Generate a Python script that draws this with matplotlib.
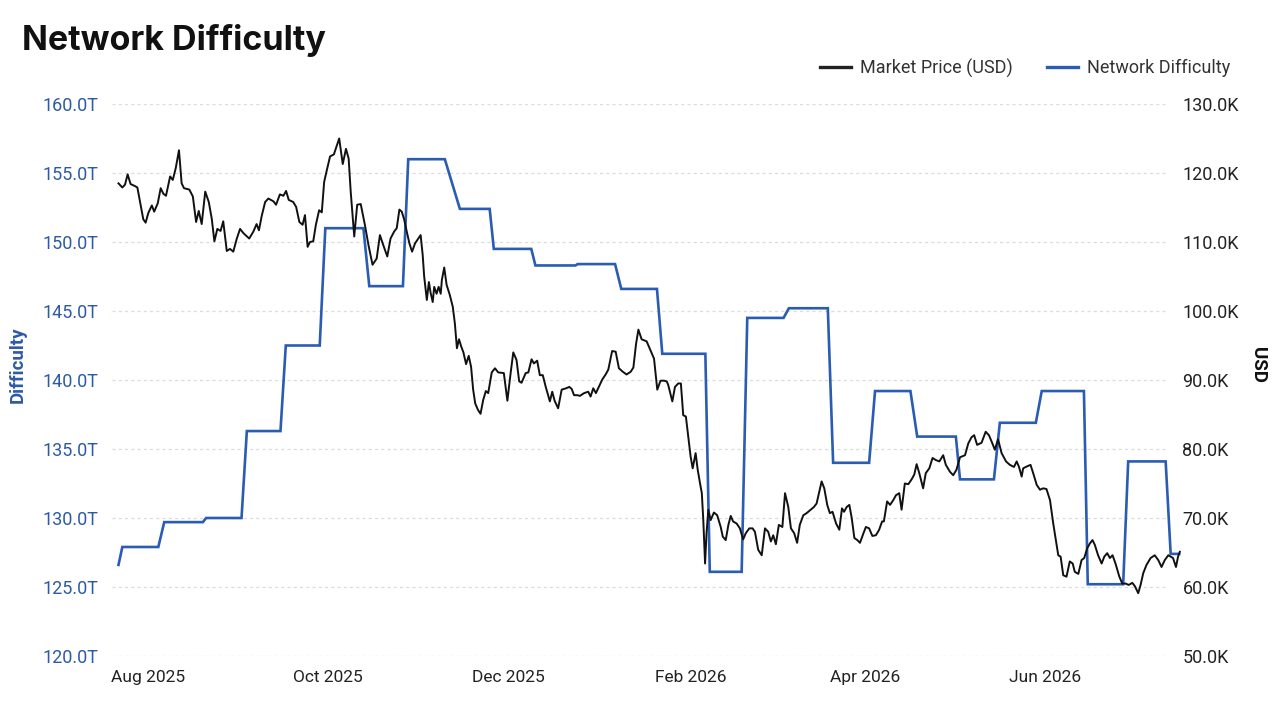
import pandas as pd
import matplotlib
matplotlib.use('Agg')
import matplotlib.pyplot as plt
from matplotlib.lines import Line2D

plt.rcParams['font.family'] = ['Roboto', 'DejaVu Sans']

# Datos (días desde 2025-07-22)
start = pd.Timestamp('2025-07-22')

# Precio de mercado (miles de USD)
price_day = [
    0.0, 1.3, 2.2, 3.1, 4.1, 5.6, 6.4, 7.3, 8.4, 9.2,
    10.1, 11.3, 12.1, 13.3, 14.3, 15.2, 16.1, 17.5, 18.4, 19.4,
    20.5, 21.4, 22.2, 24.0, 25.2, 26.3, 27.2, 28.2, 29.4, 30.6,
    31.6, 32.5, 33.5, 34.6, 35.5, 36.7, 37.8, 38.9, 40.1, 41.2,
    42.3, 44.3, 45.7, 46.8, 47.6, 48.5, 49.7, 50.8, 52.5, 53.4,
    54.7, 55.9, 56.8, 57.7, 59.2, 60.2, 61.3, 62.4, 63.2, 64.1,
    64.9, 66.0, 66.9, 68.0, 68.9, 69.7, 70.6, 71.7, 73.0, 74.8,
    76.0, 77.1, 78.0, 78.7, 79.9, 80.9, 82.1, 83.5, 84.7, 86.1, 87.5,
    88.6, 89.7, 91.1, 92.2, 93.4, 94.3, 95.2, 96.0, 96.8, 97.7,
    98.6, 99.5, 100.5, 101.6, 102.4, 103.1, 103.6, 104.5, 105.2, 105.8,
    106.5, 107.0, 107.8, 108.5, 109.2, 109.6, 110.4, 111.2, 112.3, 113.3,
    114.0, 114.7, 115.4, 116.2, 116.9, 117.8, 118.7, 119.5, 120.2, 120.9,
    121.8, 122.7, 123.6, 124.5, 125.3, 126.5, 127.6, 128.7, 130.6, 131.8,
    132.9, 133.8, 134.9, 135.8, 136.6, 138.0, 138.9, 140.0, 140.8, 141.9,
    142.8, 143.8, 144.8, 146.2, 147.0, 147.8, 149.0, 150.2, 151.7, 152.8,
    153.6, 154.4, 155.5, 156.4, 157.8, 159.2, 160.0, 160.9, 161.8, 162.8,
    164.0, 165.1, 166.0, 167.3, 168.5, 169.6, 170.9, 172.2, 173.6, 174.5,
    175.4, 176.2, 177.3, 179.0, 180.4, 181.5, 182.6, 183.7, 184.9, 185.8,
    186.3, 187.7, 188.6, 189.7, 190.6, 191.4, 192.3, 193.1, 193.9, 194.6,
    195.6, 196.3, 197.1, 197.7, 198.2, 198.8, 199.3, 199.9, 200.7, 201.8,
    202.9, 204.1, 204.8, 205.8, 206.7, 207.5, 208.3, 209.5, 210.6, 211.7,
    212.6, 213.8, 214.9, 215.7, 216.8, 218.0, 219.1, 220.2, 221.1, 221.9,
    222.8, 223.8, 225.0, 225.9, 227.0, 227.9, 229.0, 230.0, 230.9, 232.1,
    233.2, 234.6, 235.7, 236.6, 237.5, 238.3, 239.2, 240.2, 241.1, 242.0,
    243.2, 244.3, 245.2, 245.9, 246.8, 247.7, 248.5, 249.4, 250.4, 251.3,
    252.4, 253.3, 254.4, 255.5, 256.7, 257.8, 258.8, 259.4, 260.5, 261.5,
    262.6, 263.5, 264.6, 265.4, 266.5, 267.7, 268.8, 269.7, 270.5, 271.4,
    272.7, 273.6, 274.8, 275.9, 277.0, 278.2, 279.5, 280.4, 281.8, 282.9,
    284.0, 285.2, 286.9, 288.0, 289.1, 290.0, 291.0, 292.5, 293.9, 295.0,
    295.9, 297.0, 298.1, 299.3, 300.8, 302.1, 303.5, 304.4, 305.2, 306.1,
    306.6, 308.0, 309.1, 310.0, 311.2, 312.3, 313.4, 314.5, 315.7, 316.8,
    317.7, 318.5, 319.3, 320.2, 321.3, 322.4, 323.4, 324.1, 325.3, 326.4,
    327.3, 328.3, 329.2, 330.1, 330.9, 332.0, 333.2, 334.1, 335.1, 336.0,
    336.9, 337.9, 339.2, 340.2, 341.3, 342.4, 343.6, 344.5, 345.6, 346.4,
    347.3, 348.4, 349.8, 351.2, 352.4, 353.5, 354.6, 355.8, 356.6, 357.4,
    358.4, 359.1, 359.7,
]
price_k = [
    118.5, 117.9, 118.3, 119.8, 118.4, 118.1, 117.9, 115.8, 113.3, 112.8,
    114.2, 115.3, 114.4, 115.6, 117.8, 117.0, 116.7, 119.5, 119.0, 120.7,
    123.3, 118.5, 117.8, 117.6, 116.6, 112.9, 114.5, 112.6, 117.3, 115.8,
    113.4, 110.1, 111.9, 111.6, 113.0, 108.7, 109.0, 108.6, 110.5, 111.9,
    111.3, 110.5, 111.5, 112.6, 111.7, 113.7, 115.8, 116.3, 115.9, 115.4,
    116.9, 116.7, 117.4, 116.1, 115.8, 115.1, 112.9, 112.5, 113.9, 109.3,
    110.0, 110.1, 112.5, 114.6, 114.3, 118.7, 120.4, 122.4, 122.7, 125.0,
    121.3, 123.5, 122.1, 117.3, 110.8, 115.4, 115.5, 112.5, 109.6, 106.7, 107.6,
    111.0, 109.6, 107.9, 110.5, 111.5, 112.0, 114.7, 114.4, 113.3, 111.5,
    109.8, 108.6, 109.8, 110.5, 111.0, 108.1, 105.0, 101.6, 104.2, 102.6,
    101.3, 103.5, 102.5, 103.5, 102.5, 104.5, 106.3, 103.8, 102.3, 100.6,
    98.2, 94.6, 95.9, 94.8, 94.0, 92.3, 93.5, 91.9, 88.6, 86.6,
    85.7, 85.1, 87.1, 88.4, 88.1, 91.1, 91.7, 91.1, 91.0, 87.0,
    91.0, 94.0, 92.9, 89.8, 89.6, 91.0, 91.1, 93.0, 92.4, 92.8,
    90.7, 90.7, 89.0, 86.9, 88.3, 87.0, 85.9, 88.6, 88.8, 89.0,
    88.7, 87.8, 87.8, 87.7, 88.1, 88.3, 87.6, 88.8, 88.1, 89.0,
    90.1, 90.8, 91.5, 94.2, 94.1, 91.7, 91.2, 90.8, 91.2, 91.8,
    95.2, 97.3, 95.9, 95.6, 94.2, 93.1, 88.6, 89.9, 89.9, 89.8,
    89.3, 86.9, 89.0, 89.5, 89.5, 84.9, 84.7, 81.8, 78.9, 77.2,
    79.4, 77.0, 75.0, 73.6, 69.7, 63.4, 67.8, 71.2, 69.7, 70.8,
    70.4, 68.7, 67.3, 66.8, 69.0, 70.3, 69.5, 69.2, 68.5, 66.9,
    67.8, 68.5, 68.5, 68.0, 65.4, 64.6, 68.5, 68.0, 66.6, 67.5,
    66.2, 69.0, 68.7, 73.6, 71.6, 68.5, 67.8, 66.4, 69.0, 70.4,
    70.7, 71.2, 71.6, 72.1, 73.8, 75.3, 74.3, 71.9, 70.7, 70.9,
    69.2, 68.3, 71.4, 70.9, 71.6, 71.9, 70.0, 67.1, 66.8, 66.4,
    67.7, 68.7, 68.5, 67.4, 67.5, 68.3, 69.5, 69.5, 72.4, 71.9,
    72.6, 73.3, 73.6, 71.2, 75.0, 74.9, 75.6, 76.3, 77.8, 76.5,
    74.3, 76.5, 77.2, 78.7, 78.4, 78.2, 79.1, 77.7, 76.7, 76.2,
    77.0, 78.8, 79.1, 80.8, 81.7, 82.0, 80.6, 80.9, 82.5, 82.0,
    81.1, 79.9, 81.4, 79.4, 78.2, 77.7, 77.4, 78.2, 77.4, 76.0,
    77.2, 77.5, 77.7, 76.5, 74.8, 74.1, 74.3, 74.2, 72.6, 69.2,
    66.8, 64.6, 64.4, 61.7, 61.5, 63.7, 63.4, 62.2, 61.9, 63.9,
    64.2, 65.6, 66.3, 66.8, 66.1, 64.6, 63.4, 64.4, 64.9, 64.2,
    64.6, 63.4, 61.5, 60.5, 60.5, 60.3, 60.6, 60.1, 59.1, 60.3,
    62.0, 63.2, 64.2, 64.6, 63.9, 62.9, 63.9, 64.6, 64.4, 64.2,
    62.9, 64.4, 65.1,
]

# Dificultad de la red (T), puntos de cambio de cada escalón
diff_day = [0.0, 1.3, 13.5, 15.5, 28.6, 29.7, 41.7, 43.5, 54.9, 56.7,
            68.2, 70.1, 83.0, 85.0, 96.4, 98.2, 110.6, 115.7, 125.8, 127.2,
            139.9, 141.3, 154.9, 155.6, 168.3, 170.4, 182.5, 184.3, 198.9, 200.4,
            211.2, 213.1, 225.4, 227.2, 240.4, 242.2, 254.4, 256.4, 268.4, 270.7,
            283.8, 285.2, 296.7, 298.7, 310.9, 312.9, 327.2, 328.5, 340.5, 342.2,
            354.9, 356.6, 359.5]
diff_t = [126.6, 127.9, 127.9, 129.7, 129.7, 130.0, 130.0, 136.3, 136.3, 142.5,
          142.5, 151.0, 151.0, 146.8, 146.8, 156.0, 156.0, 152.4, 152.4, 149.5,
          149.5, 148.3, 148.3, 148.4, 148.4, 146.6, 146.6, 141.9, 141.9, 126.1,
          126.1, 144.5, 144.5, 145.2, 145.2, 134.0, 134.0, 139.2, 139.2, 135.9,
          135.9, 132.8, 132.8, 136.9, 136.9, 139.2, 139.2, 125.2, 125.2, 134.1,
          134.1, 127.4, 127.4]

month_ticks = ['2025-08-01', '2025-10-01', '2025-12-01', '2026-02-01', '2026-04-01', '2026-06-01']
month_labels = ['Aug 2025', 'Oct 2025', 'Dec 2025', 'Feb 2026', 'Apr 2026', 'Jun 2026']
diff_ticks = [120, 125, 130, 135, 140, 145, 150, 155, 160]
price_ticks = [50, 60, 70, 80, 90, 100, 110, 120, 130]

price_dates = start + pd.to_timedelta(price_day, unit='D')
diff_dates = start + pd.to_timedelta(diff_day, unit='D')

blue = '#2b5cb3'
blue_txt = '#2d5aa6'

fig = plt.figure(figsize=(12.8, 7.2), dpi=100)
ax1 = fig.add_axes([112 / 1280, 64 / 720, 1069 / 1280, 552 / 720])
ax2 = ax1.twinx()

# Líneas
ax1.plot(diff_dates, diff_t, color=blue, lw=1.9, solid_joinstyle='miter')
ax2.plot(price_dates, price_k, color='#111111', lw=1.4)

ax1.set_xlim(start - pd.Timedelta(days=2.2), start + pd.Timedelta(days=360.1))
ax1.set_ylim(120, 160)
ax2.set_ylim(50, 130)

# Rejilla horizontal punteada
for v in diff_ticks:
    ax1.axhline(v, xmin=0, xmax=0.988, color='#dcdcdc', lw=0.9, ls=(0, (2.5, 2.5)), zorder=0)

ax1.set_xticks(pd.to_datetime(month_ticks))
ax1.set_xticklabels(month_labels)
ax1.set_yticks(diff_ticks)
ax1.set_yticklabels([f'{v:.1f}T' for v in diff_ticks])
ax2.set_yticks(price_ticks)
ax2.set_yticklabels([f'{v:.1f}K' for v in price_ticks])

ax1.tick_params(axis='x', length=0, pad=10, labelsize=12.5, labelcolor='#222222')
ax1.tick_params(axis='y', length=0, pad=10, labelsize=13, labelcolor=blue_txt)
ax2.tick_params(axis='y', length=0, pad=1, labelsize=13, labelcolor='#222222')

for ax in (ax1, ax2):
    for s in ax.spines.values():
        s.set_visible(False)

# Títulos y etiquetas
fig.text(22 / 1280, 1 - 50 / 720, 'Network Difficulty', fontsize=24.5, fontweight='bold',
         family=['Inter', 'DejaVu Sans'], color='#111111', va='baseline', ha='left')
fig.text(18 / 1280, 1 - 365 / 720, 'Difficulty', rotation=90, fontsize=13.5, fontweight='bold',
         color=blue_txt, va='center', ha='center')
fig.text(1258 / 1280, 1 - 365 / 720, 'USD', rotation=270, fontsize=13.5, fontweight='bold',
         color='#111111', va='center', ha='center')

handles = [Line2D([], [], color='#222222', lw=2.4), Line2D([], [], color=blue, lw=2.4)]
fig.legend(handles, ['Market Price (USD)', 'Network Difficulty'], loc='center right',
           bbox_to_anchor=(1230 / 1280, 1 - 68 / 720), ncol=2, frameon=False, fontsize=13,
           handlelength=1.7, handletextpad=0.5, columnspacing=1.9, borderpad=0, borderaxespad=0,
           labelcolor='#333333')

fig.savefig('out.png', dpi=100)
